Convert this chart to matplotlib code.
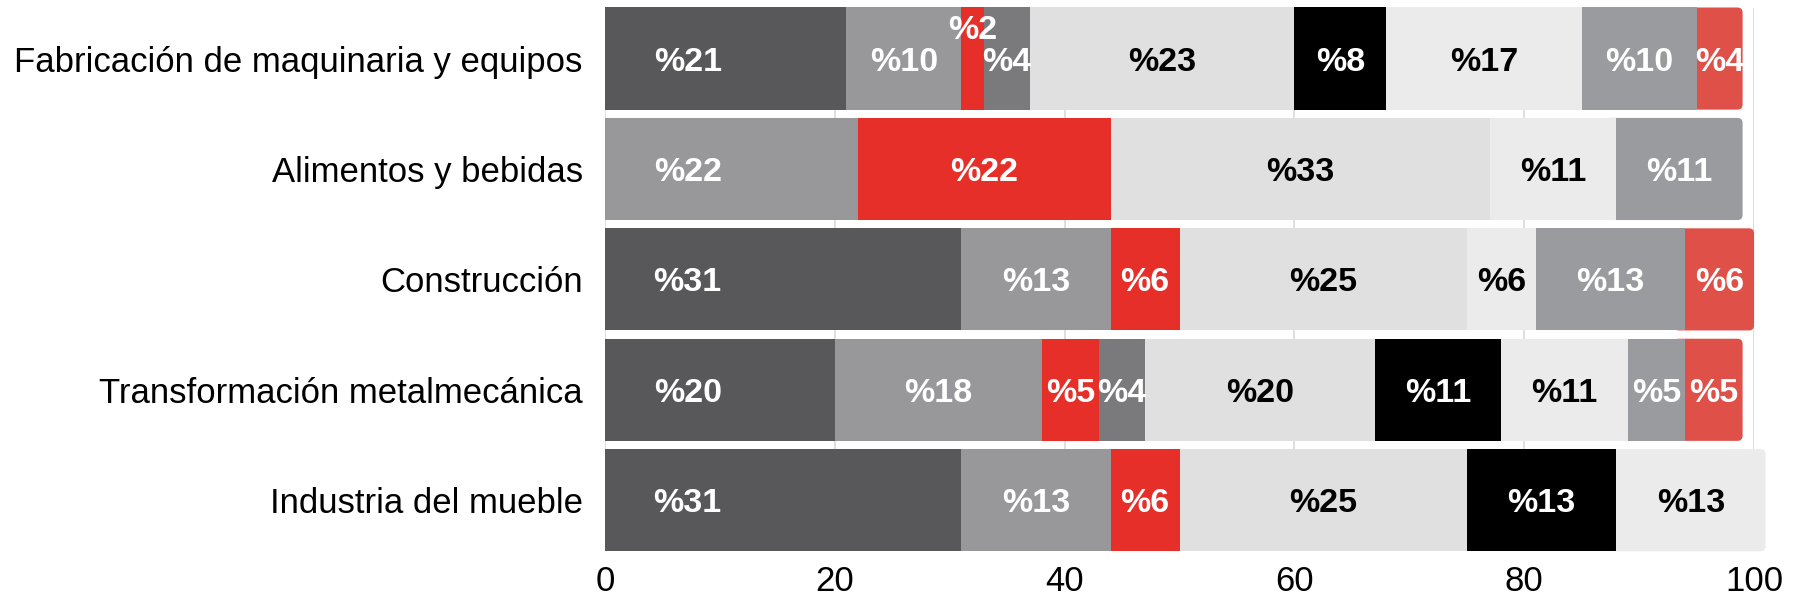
import matplotlib.pyplot as plt
from matplotlib.patches import FancyBboxPatch

plt.rcParams['font.family'] = ['Liberation Sans', 'DejaVu Sans']

sectores = ['Fabricación de maquinaria y equipos', 'Alimentos y bebidas', 'Construcción',
            'Transformación metalmecánica', 'Industria del mueble']

# nine answer groups, one value per sector (0 = not present)
s1 = [21, 0, 31, 20, 31]
s2 = [10, 22, 13, 18, 13]
s3 = [2, 22, 6, 5, 6]
s4 = [4, 0, 0, 4, 0]
s5 = [23, 33, 25, 20, 25]
s6 = [8, 0, 0, 11, 13]
s7 = [17, 11, 6, 11, 13]
s8 = [10, 11, 13, 5, 0]
s9 = [4, 0, 6, 5, 0]
series = [s1, s2, s3, s4, s5, s6, s7, s8, s9]

colores = ['#58585a', '#98989a', '#e52f28', '#7a7a7c', '#e0e0e0',
           '#000000', '#ebebeb', '#9a9b9f', '#df5049']
texto = ['white', 'white', 'white', 'white', 'black',
         'white', 'black', 'white', 'white']

fig = plt.figure(figsize=(17.93, 5.98), dpi=100)
ax = fig.add_axes([0.3374, 0.0786, 0.9783 - 0.3374, 0.987 - 0.0786])

ypos = list(range(len(sectores)))
h = 0.925
left = [0] * len(sectores)
last_patch = [None] * len(sectores)
for k, vals in enumerate(series):
    bars = ax.barh(ypos, vals, left=left, height=h, color=colores[k], zorder=3)
    for i, (b, v) in enumerate(zip(bars, vals)):
        b.set_clip_on(False)
        if v == 0:
            continue
        last_patch[i] = b
        if left[i] == 0:
            xt = 7.2
        else:
            xt = left[i] + v / 2
        yt = ypos[i]
        if v <= 2:
            yt = ypos[i] - 0.29
        ax.text(xt, yt, '%' + str(v), ha='center', va='center_baseline', color=texto[k],
                fontsize=24.5, fontweight='bold', zorder=5, clip_on=False)
    left = [l + v for l, v in zip(left, vals)]

# round the right end of each bar
for b in last_patch:
    x0, y0 = b.get_x(), b.get_y()
    w, hh = b.get_width(), b.get_height()
    b.set_visible(False)
    r = FancyBboxPatch((x0 - 1, y0), w + 1, hh, boxstyle='round,pad=0,rounding_size=0.45',
                       mutation_aspect=0.104, facecolor=b.get_facecolor(), edgecolor='none',
                       zorder=2.5, clip_on=False)
    ax.add_patch(r)

ax.set_xlim(0, 100)
ax.set_ylim(len(sectores) - 1 + 0.46, -0.46)
ax.set_yticks(ypos)
ax.set_yticklabels(sectores, fontsize=25)
ax.set_xticks([0, 20, 40, 60, 80, 100])
ax.tick_params(axis='x', labelsize=25, length=0, pad=10)
ax.tick_params(axis='y', length=0, pad=16)
ax.xaxis.grid(True, color='#d9d9d9', linewidth=1.2, zorder=0)
ax.set_axisbelow(True)
for s in ax.spines.values():
    s.set_visible(False)

fig.savefig('out.png', dpi=100)
